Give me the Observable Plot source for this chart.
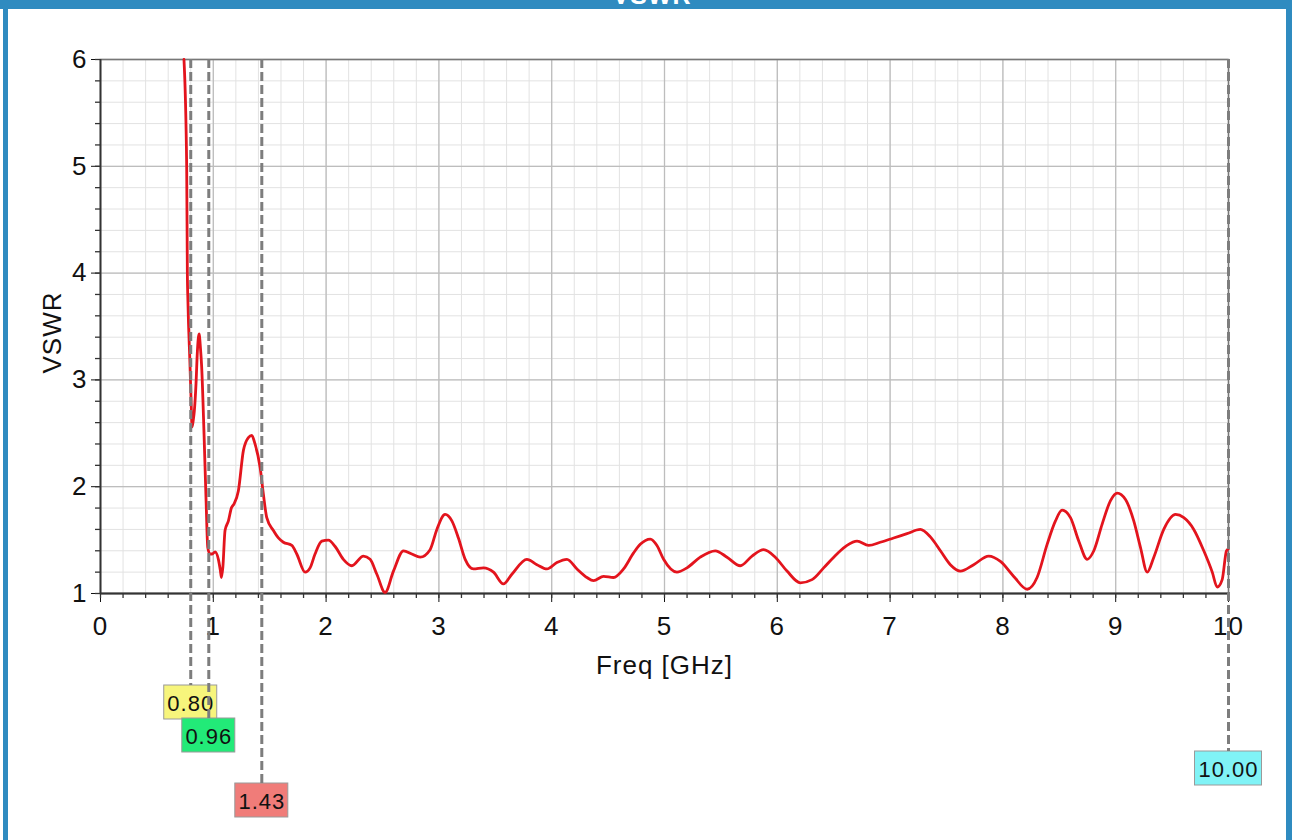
<!DOCTYPE html>
<html><head><meta charset="utf-8">
<script src="https://cdn.jsdelivr.net/npm/d3@7"></script>
<script src="https://cdn.jsdelivr.net/npm/@observablehq/plot@0.6"></script>
<style>
body{margin:0;background:#fff;}
#wrap{position:relative;width:1292px;height:840px;overflow:hidden;background:#fff;font-family:"Liberation Sans",Arial,sans-serif;}
#chart svg{position:absolute;left:0;top:0;}
#chart svg text{letter-spacing:1px;}
.bar{position:absolute;background:#2f8bc0;}
#title{position:absolute;left:0;width:1304px;top:-17px;text-align:center;color:#fff;font-weight:bold;font-size:25px;line-height:1;letter-spacing:1px;}
</style></head><body>
<div id="wrap">
 <div id="chart"></div>
 <div class="bar" style="left:0;top:0;width:1292px;height:9px"></div>
 <div id="title"></div>
 <div class="bar" style="left:3px;top:0;width:5px;height:840px"></div>
 <div class="bar" style="left:1286px;top:0;width:6px;height:840px"></div>
</div>
<script>
// ---------- data ----------
const titleText = "VSWR";
const xLabel = "Freq [GHz]";
const yLabel = "VSWR";
const xTickValues = [0,1,2,3,4,5,6,7,8,9,10];
const yTickValues = [1,2,3,4,5,6];
const freq = [0.740,0.764,0.770,0.775,0.794,0.803,0.812,0.822,0.832,0.847,0.859,0.874,0.886,0.897,0.918,0.936,0.951,0.970,0.990,1.016,1.045,1.062,1.072,1.085,1.104,1.134,1.160,1.184,1.222,1.267,1.311,1.341,1.370,1.415,1.444,1.474,1.533,1.577,1.621,1.696,1.740,1.814,1.858,1.902,1.962,2.020,2.080,2.153,2.228,2.331,2.390,2.450,2.523,2.597,2.686,2.760,2.834,2.922,2.982,3.055,3.115,3.173,3.233,3.306,3.395,3.484,3.572,3.647,3.780,3.869,3.958,4.046,4.135,4.224,4.312,4.371,4.460,4.548,4.637,4.726,4.785,4.874,4.933,4.992,5.110,5.199,5.317,5.450,5.554,5.672,5.776,5.879,5.982,6.086,6.204,6.308,6.411,6.529,6.618,6.707,6.810,6.913,7.031,7.150,7.268,7.357,7.446,7.534,7.623,7.741,7.874,7.978,8.096,8.215,8.303,8.392,8.466,8.525,8.599,8.673,8.747,8.806,8.880,8.954,9.013,9.087,9.160,9.220,9.279,9.338,9.426,9.530,9.604,9.692,9.781,9.856,9.900,9.944,9.982,10.000];
const vswr = [6.00,5.00,4.00,3.74,3.12,2.81,2.56,2.62,2.71,2.97,3.27,3.43,3.30,3.12,2.49,1.87,1.43,1.37,1.37,1.39,1.32,1.22,1.15,1.25,1.59,1.68,1.80,1.84,1.96,2.34,2.46,2.48,2.40,2.18,1.93,1.71,1.59,1.52,1.48,1.45,1.37,1.20,1.24,1.37,1.49,1.50,1.44,1.32,1.26,1.35,1.32,1.18,1.01,1.21,1.40,1.37,1.34,1.41,1.60,1.74,1.68,1.52,1.32,1.23,1.24,1.20,1.09,1.18,1.32,1.27,1.23,1.29,1.32,1.23,1.15,1.12,1.16,1.15,1.23,1.38,1.46,1.51,1.45,1.32,1.20,1.24,1.34,1.40,1.34,1.26,1.35,1.41,1.34,1.21,1.10,1.13,1.24,1.37,1.45,1.49,1.45,1.48,1.52,1.56,1.60,1.53,1.40,1.27,1.21,1.27,1.35,1.30,1.16,1.04,1.15,1.46,1.68,1.78,1.71,1.49,1.32,1.40,1.65,1.87,1.94,1.88,1.68,1.43,1.20,1.34,1.60,1.74,1.71,1.60,1.40,1.20,1.06,1.13,1.40,1.42];
const markerFreqs = [0.80, 0.96, 1.43, 10.00];
const markerLabels = ["0.80", "0.96", "1.43", "10.00"];

// ---------- styles / layout ----------
const markerStyle = [
  {fill: "#f7f57c", drop: 92, w: 53},
  {fill: "#22ea78", drop: 125, w: 53},
  {fill: "#f07c79", drop: 190, w: 53},
  {fill: "#80f3f6", drop: 158, w: 67}
];
const boxH = 34;

document.getElementById("title").textContent = titleText;

const data = freq.map((f, i) => ({f, v: vswr[i]}));
const minorX = d3.range(0, 51).map(i => i / 5);
const minorY = d3.range(0, 26).map(i => 1 + i / 5);

const markerMarks = [];
markerFreqs.forEach((f, i) => {
  const s = markerStyle[i];
  markerMarks.push(
    Plot.rect([f], {x1: d => d, x2: d => d, y1: 1, y2: 1,
      insetLeft: -s.w / 2, insetRight: -s.w / 2,
      insetTop: s.drop, insetBottom: -(s.drop + boxH),
      fill: s.fill, stroke: "#9a9a9a", strokeWidth: 1}),
    Plot.text([f], {x: d => d, y: 1, text: () => markerLabels[i],
      dy: s.drop + boxH / 2 + 1, fontSize: 22, fill: "#111"})
  );
});
markerFreqs.forEach((f, i) => {
  const s = markerStyle[i];
  markerMarks.push(
    Plot.ruleX([f], {x: d => d, y1: 6, y2: 1, insetBottom: -s.drop,
      stroke: "#7d7d7d", strokeWidth: 3, strokeDasharray: "9,4"})
  );
});

const chart = Plot.plot({
  width: 1292, height: 840,
  marginLeft: 100, marginRight: 64, marginTop: 59, marginBottom: 247,
  style: {fontFamily: "'Liberation Sans', Arial, sans-serif", fontSize: "26px", background: "transparent", color: "#111", overflow: "visible"},
  x: {domain: [0, 10], ticks: xTickValues, tickSize: 9, tickPadding: 14, label: null, tickFormat: d => String(d)},
  y: {domain: [1, 6], ticks: yTickValues, tickSize: 9, tickPadding: 4, label: null, tickFormat: d => String(d)},
  marks: [
    Plot.ruleX(minorX, {stroke: "#e2e2e2", strokeWidth: 1}),
    Plot.ruleY(minorY, {stroke: "#e2e2e2", strokeWidth: 1}),
    Plot.ruleX(xTickValues, {stroke: "#bdbdbd", strokeWidth: 1.3}),
    Plot.ruleY(yTickValues, {stroke: "#bdbdbd", strokeWidth: 1.3}),
    Plot.frame({stroke: "#777", strokeWidth: 1.5}),
    Plot.ruleX(minorX, {y1: 1, y2: 1, insetBottom: -5, stroke: "#333", strokeWidth: 1.3}),
    Plot.ruleY(minorY, {x1: 0, x2: 0, insetLeft: -5, stroke: "#333", strokeWidth: 1.3}),
    Plot.ruleY([1], {stroke: "#333", strokeWidth: 1.8}),
    Plot.ruleX([0], {stroke: "#333", strokeWidth: 1.8}),
    Plot.line(data, {x: "f", y: "v", stroke: "#e3141d", strokeWidth: 2.8, curve: "monotone-x"}),
    ...markerMarks,
    Plot.text([xLabel], {frameAnchor: "bottom", lineAnchor: "middle", textAnchor: "middle", dy: 72, fontSize: 26, fill: "#111"}),
    Plot.text([yLabel], {frameAnchor: "left", lineAnchor: "middle", textAnchor: "middle", rotate: -90, dx: -48, dy: 6, fontSize: 26, fill: "#111"})
  ]
});
document.getElementById("chart").appendChild(chart);
</script>
</body></html>
